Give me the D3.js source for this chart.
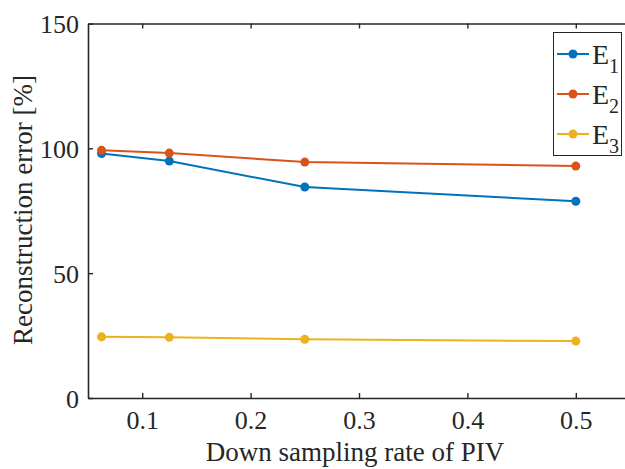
<!DOCTYPE html>
<html>
<head>
<meta charset="utf-8">
<script src="https://cdn.jsdelivr.net/npm/d3@7"></script>
<style>
  body { margin: 0; background: #fff; }
  svg text { font-family: "Liberation Serif", "Times New Roman", serif; fill: #262626; }
</style>
</head>
<body>
<svg id="chart" width="625" height="469"></svg>
<script>
// data
const rates = [0.0625, 0.125, 0.25, 0.5];
const e1 = [97.9, 94.9, 84.5, 78.8];
const e2 = [99.2, 98.1, 94.5, 92.9];
const e3 = [24.5, 24.3, 23.5, 22.8];
const seriesNames = ["1", "2", "3"];
const seriesColors = ["#0072BD", "#D95319", "#EDB120"];
const xTicks = [0.1, 0.2, 0.3, 0.4, 0.5];
const yTicks = [0, 50, 100, 150];

const serif = '"Liberation Serif", "Times New Roman", serif';
const svg = d3.select("#chart");
const m = {left: 88, top: 23.5, right: 630, bottom: 398};

const x = d3.scaleLinear().domain([0.05, 0.55]).range([m.left, m.right]);
const y = d3.scaleLinear().domain([0, 150]).range([m.bottom, m.top]);

// axes (matlab style, ticks inward)
const axColor = "#262626";
const xAxis = svg.append("g").attr("transform", `translate(0,${m.bottom})`)
  .call(d3.axisBottom(x).tickValues(xTicks).tickSizeInner(-5).tickSizeOuter(0).tickPadding(13).tickFormat(d3.format("")));
const xTop = svg.append("g").attr("transform", `translate(0,${m.top})`)
  .call(d3.axisTop(x).tickValues(xTicks).tickSizeInner(-5).tickSizeOuter(0).tickFormat(""));
const yAxis = svg.append("g").attr("transform", `translate(${m.left},0)`)
  .call(d3.axisLeft(y).tickValues(yTicks).tickSizeInner(-5).tickSizeOuter(0).tickPadding(9));

[xAxis, xTop, yAxis].forEach(g => {
  g.attr("font-family", serif).attr("font-size", 26);
  g.select(".domain").attr("stroke", axColor).attr("stroke-width", 1.6);
  g.selectAll(".tick line").attr("stroke", axColor).attr("stroke-width", 1.4);
  g.selectAll("text").attr("fill", axColor);
});
xAxis.selectAll("text").attr("dy", "0.71em");
yAxis.selectAll("text").attr("dy", "0.35em");

// labels
svg.append("text").attr("x", 355).attr("y", 461).attr("text-anchor", "middle")
  .attr("font-size", 27).text("Down sampling rate of PIV");
svg.append("text").attr("transform", "translate(32,210) rotate(-90)")
  .attr("text-anchor", "middle").attr("font-size", 27).text("Reconstruction error [%]");

// lines
const allSeries = [e1, e2, e3];
const line = d3.line().x((d, i) => x(rates[i])).y(d => y(d));
allSeries.forEach((vals, k) => {
  const g = svg.append("g");
  g.append("path").datum(vals).attr("d", line).attr("fill", "none")
    .attr("stroke", seriesColors[k]).attr("stroke-width", 2);
  g.selectAll("circle").data(vals).join("circle")
    .attr("cx", (d, i) => x(rates[i])).attr("cy", d => y(d)).attr("r", 4.5)
    .attr("fill", seriesColors[k]);
});

// legend
const lg = svg.append("g");
lg.append("rect").attr("x", 553.5).attr("y", 32.5).attr("width", 68).attr("height", 123)
  .attr("fill", "#fff").attr("stroke", axColor).attr("stroke-width", 1);
seriesNames.forEach((n, k) => {
  const cy = 54 + k * 40;
  lg.append("line").attr("x1", 557).attr("x2", 589).attr("y1", cy).attr("y2", cy)
    .attr("stroke", seriesColors[k]).attr("stroke-width", 2);
  lg.append("circle").attr("cx", 573).attr("cy", cy).attr("r", 4.5).attr("fill", seriesColors[k]);
  const t = lg.append("text").attr("x", 592).attr("y", cy + 10).attr("font-size", 28);
  t.append("tspan").text("E");
  t.append("tspan").attr("font-size", 20).attr("dy", 9).text(n);
});
</script>
</body>
</html>
